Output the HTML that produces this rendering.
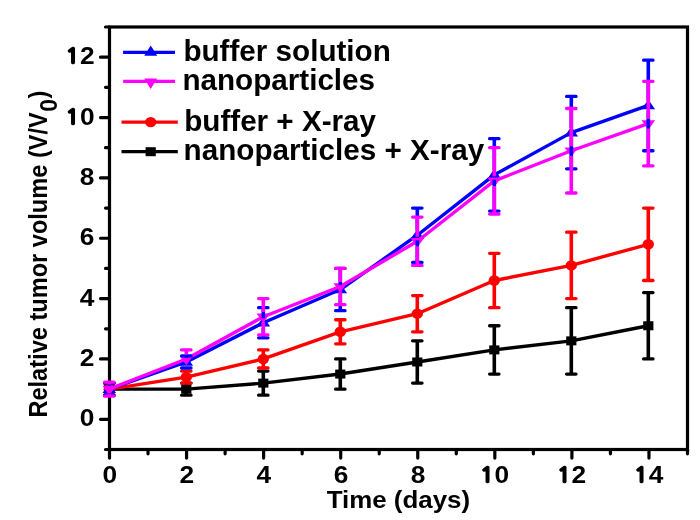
<!DOCTYPE html>
<html lang="en"><head><meta charset="utf-8"><title>Relative tumor volume</title>
<style>html,body{margin:0;padding:0;background:#fff}body{width:700px;height:520px;overflow:hidden}</style></head>
<body>
<svg width="700" height="520" viewBox="0 0 700 520" style="display:block">
<rect width="700" height="520" fill="#ffffff"/>
<rect x="109.50" y="26.99" width="578.00" height="422.51" fill="none" stroke="#000" stroke-width="3.2"/>
<path d="M109.50 449.50v8.6M148.03 449.50v4.3M186.57 449.50v8.6M225.10 449.50v4.3M263.63 449.50v8.6M302.17 449.50v4.3M340.70 449.50v8.6M379.23 449.50v4.3M417.76 449.50v8.6M456.30 449.50v4.3M494.83 449.50v8.6M533.36 449.50v4.3M571.90 449.50v8.6M610.43 449.50v4.3M648.96 449.50v8.6M687.50 449.50v4.3M109.50 449.50h-4.0M109.50 419.32h-9.0M109.50 389.14h-4.0M109.50 358.96h-9.0M109.50 328.78h-4.0M109.50 298.61h-9.0M109.50 268.43h-4.0M109.50 238.25h-9.0M109.50 208.07h-4.0M109.50 177.89h-9.0M109.50 147.71h-4.0M109.50 117.53h-9.0M109.50 87.35h-4.0M109.50 57.17h-9.0M109.50 26.99h-4.0" stroke="#000" stroke-width="3.2" stroke-linecap="round" fill="none"/>
<polyline points="109.30,389.14 186.30,389.14 263.30,383.11 340.30,374.05 417.30,361.98 494.30,349.91 571.30,340.86 648.30,325.77" fill="none" stroke="#000000" stroke-width="3.4" stroke-linejoin="round"/>
<rect x="104.20" y="384.64" width="10.20" height="9.00" fill="#000000"/>
<rect x="181.20" y="384.64" width="10.20" height="9.00" fill="#000000"/>
<rect x="258.20" y="378.61" width="10.20" height="9.00" fill="#000000"/>
<rect x="335.20" y="369.55" width="10.20" height="9.00" fill="#000000"/>
<rect x="412.20" y="357.48" width="10.20" height="9.00" fill="#000000"/>
<rect x="489.20" y="345.41" width="10.20" height="9.00" fill="#000000"/>
<rect x="566.20" y="336.36" width="10.20" height="9.00" fill="#000000"/>
<rect x="643.20" y="321.27" width="10.20" height="9.00" fill="#000000"/>
<path d="M109.30 383.11V395.18" stroke="#000000" stroke-width="3.6" fill="none"/>
<path d="M104.60 383.11H114.00M104.60 395.18H114.00" stroke="#000000" stroke-width="3.3" stroke-linecap="round" fill="none"/>
<path d="M186.30 383.11V395.18" stroke="#000000" stroke-width="3.6" fill="none"/>
<path d="M181.60 383.11H191.00M181.60 395.18H191.00" stroke="#000000" stroke-width="3.3" stroke-linecap="round" fill="none"/>
<path d="M263.30 371.03V395.18" stroke="#000000" stroke-width="3.6" fill="none"/>
<path d="M258.60 371.03H268.00M258.60 395.18H268.00" stroke="#000000" stroke-width="3.3" stroke-linecap="round" fill="none"/>
<path d="M340.30 358.96V389.14" stroke="#000000" stroke-width="3.6" fill="none"/>
<path d="M335.60 358.96H345.00M335.60 389.14H345.00" stroke="#000000" stroke-width="3.3" stroke-linecap="round" fill="none"/>
<path d="M417.30 340.86V383.11" stroke="#000000" stroke-width="3.6" fill="none"/>
<path d="M412.60 340.86H422.00M412.60 383.11H422.00" stroke="#000000" stroke-width="3.3" stroke-linecap="round" fill="none"/>
<path d="M494.30 325.77V374.05" stroke="#000000" stroke-width="3.6" fill="none"/>
<path d="M489.60 325.77H499.00M489.60 374.05H499.00" stroke="#000000" stroke-width="3.3" stroke-linecap="round" fill="none"/>
<path d="M571.30 307.66V374.05" stroke="#000000" stroke-width="3.6" fill="none"/>
<path d="M566.60 307.66H576.00M566.60 374.05H576.00" stroke="#000000" stroke-width="3.3" stroke-linecap="round" fill="none"/>
<path d="M648.30 292.57V358.96" stroke="#000000" stroke-width="3.6" fill="none"/>
<path d="M643.60 292.57H653.00M643.60 358.96H653.00" stroke="#000000" stroke-width="3.3" stroke-linecap="round" fill="none"/>
<polyline points="109.30,389.14 186.30,377.07 263.30,358.96 340.30,331.80 417.30,313.69 494.30,280.50 571.30,265.41 648.30,244.28" fill="none" stroke="#ff0000" stroke-width="3.4" stroke-linejoin="round"/>
<ellipse cx="109.30" cy="389.14" rx="5.7" ry="5.2" fill="#ff0000"/>
<ellipse cx="186.30" cy="377.07" rx="5.7" ry="5.2" fill="#ff0000"/>
<ellipse cx="263.30" cy="358.96" rx="5.7" ry="5.2" fill="#ff0000"/>
<ellipse cx="340.30" cy="331.80" rx="5.7" ry="5.2" fill="#ff0000"/>
<ellipse cx="417.30" cy="313.69" rx="5.7" ry="5.2" fill="#ff0000"/>
<ellipse cx="494.30" cy="280.50" rx="5.7" ry="5.2" fill="#ff0000"/>
<ellipse cx="571.30" cy="265.41" rx="5.7" ry="5.2" fill="#ff0000"/>
<ellipse cx="648.30" cy="244.28" rx="5.7" ry="5.2" fill="#ff0000"/>
<path d="M109.30 383.11V395.18" stroke="#ff0000" stroke-width="3.6" fill="none"/>
<path d="M104.60 383.11H114.00M104.60 395.18H114.00" stroke="#ff0000" stroke-width="3.3" stroke-linecap="round" fill="none"/>
<path d="M186.30 371.03V383.11" stroke="#ff0000" stroke-width="3.6" fill="none"/>
<path d="M181.60 371.03H191.00M181.60 383.11H191.00" stroke="#ff0000" stroke-width="3.3" stroke-linecap="round" fill="none"/>
<path d="M263.30 349.91V368.02" stroke="#ff0000" stroke-width="3.6" fill="none"/>
<path d="M258.60 349.91H268.00M258.60 368.02H268.00" stroke="#ff0000" stroke-width="3.3" stroke-linecap="round" fill="none"/>
<path d="M340.30 319.73V343.87" stroke="#ff0000" stroke-width="3.6" fill="none"/>
<path d="M335.60 319.73H345.00M335.60 343.87H345.00" stroke="#ff0000" stroke-width="3.3" stroke-linecap="round" fill="none"/>
<path d="M417.30 295.59V331.80" stroke="#ff0000" stroke-width="3.6" fill="none"/>
<path d="M412.60 295.59H422.00M412.60 331.80H422.00" stroke="#ff0000" stroke-width="3.3" stroke-linecap="round" fill="none"/>
<path d="M494.30 253.34V307.66" stroke="#ff0000" stroke-width="3.6" fill="none"/>
<path d="M489.60 253.34H499.00M489.60 307.66H499.00" stroke="#ff0000" stroke-width="3.3" stroke-linecap="round" fill="none"/>
<path d="M571.30 232.21V298.61" stroke="#ff0000" stroke-width="3.6" fill="none"/>
<path d="M566.60 232.21H576.00M566.60 298.61H576.00" stroke="#ff0000" stroke-width="3.3" stroke-linecap="round" fill="none"/>
<path d="M648.30 208.07V280.50" stroke="#ff0000" stroke-width="3.6" fill="none"/>
<path d="M643.60 208.07H653.00M643.60 280.50H653.00" stroke="#ff0000" stroke-width="3.3" stroke-linecap="round" fill="none"/>
<polyline points="109.30,389.14 186.30,361.98 263.30,322.75 340.30,289.55 417.30,235.23 494.30,174.87 571.30,132.62 648.30,105.46" fill="none" stroke="#0000ff" stroke-width="3.4" stroke-linejoin="round"/>
<polygon points="102.50,392.94 116.10,392.94 109.30,383.14" fill="#0000ff"/>
<polygon points="179.50,365.78 193.10,365.78 186.30,355.98" fill="#0000ff"/>
<polygon points="256.50,326.55 270.10,326.55 263.30,316.75" fill="#0000ff"/>
<polygon points="333.50,293.35 347.10,293.35 340.30,283.55" fill="#0000ff"/>
<polygon points="410.50,239.03 424.10,239.03 417.30,229.23" fill="#0000ff"/>
<polygon points="487.50,178.67 501.10,178.67 494.30,168.87" fill="#0000ff"/>
<polygon points="564.50,136.42 578.10,136.42 571.30,126.62" fill="#0000ff"/>
<polygon points="641.50,109.26 655.10,109.26 648.30,99.46" fill="#0000ff"/>
<polyline points="109.30,389.14 186.30,358.96 263.30,316.71 340.30,286.53 417.30,241.26 494.30,180.91 571.30,150.73 648.30,123.57" fill="none" stroke="#ff00ff" stroke-width="3.4" stroke-linejoin="round"/>
<polygon points="102.50,385.84 116.10,385.84 109.30,395.44" fill="#ff00ff"/>
<polygon points="179.50,355.66 193.10,355.66 186.30,365.26" fill="#ff00ff"/>
<polygon points="256.50,313.41 270.10,313.41 263.30,323.01" fill="#ff00ff"/>
<polygon points="333.50,283.23 347.10,283.23 340.30,292.83" fill="#ff00ff"/>
<polygon points="410.50,237.96 424.10,237.96 417.30,247.56" fill="#ff00ff"/>
<polygon points="487.50,177.61 501.10,177.61 494.30,187.21" fill="#ff00ff"/>
<polygon points="564.50,147.43 578.10,147.43 571.30,157.03" fill="#ff00ff"/>
<polygon points="641.50,120.27 655.10,120.27 648.30,129.87" fill="#ff00ff"/>
<path d="M109.30 383.11V384.54M109.30 394.14V395.18" stroke="#0000ff" stroke-width="3.6" fill="none"/>
<path d="M104.60 383.11H114.00M104.60 395.18H114.00" stroke="#0000ff" stroke-width="3.3" stroke-linecap="round" fill="none"/>
<path d="M186.30 355.95V357.38M186.30 366.98V368.02" stroke="#0000ff" stroke-width="3.6" fill="none"/>
<path d="M181.60 355.95H191.00M181.60 368.02H191.00" stroke="#0000ff" stroke-width="3.3" stroke-linecap="round" fill="none"/>
<path d="M263.30 307.66V318.15M263.30 327.75V337.84" stroke="#0000ff" stroke-width="3.6" fill="none"/>
<path d="M258.60 307.66H268.00M258.60 337.84H268.00" stroke="#0000ff" stroke-width="3.3" stroke-linecap="round" fill="none"/>
<path d="M340.30 268.43V284.95M340.30 294.55V310.68" stroke="#0000ff" stroke-width="3.6" fill="none"/>
<path d="M335.60 268.43H345.00M335.60 310.68H345.00" stroke="#0000ff" stroke-width="3.3" stroke-linecap="round" fill="none"/>
<path d="M417.30 208.07V230.63M417.30 240.23V262.39" stroke="#0000ff" stroke-width="3.6" fill="none"/>
<path d="M412.60 208.07H422.00M412.60 262.39H422.00" stroke="#0000ff" stroke-width="3.3" stroke-linecap="round" fill="none"/>
<path d="M494.30 138.66V170.27M494.30 179.87V211.09" stroke="#0000ff" stroke-width="3.6" fill="none"/>
<path d="M489.60 138.66H499.00M489.60 211.09H499.00" stroke="#0000ff" stroke-width="3.3" stroke-linecap="round" fill="none"/>
<path d="M571.30 96.41V128.02M571.30 137.62V168.84" stroke="#0000ff" stroke-width="3.6" fill="none"/>
<path d="M566.60 96.41H576.00M566.60 168.84H576.00" stroke="#0000ff" stroke-width="3.3" stroke-linecap="round" fill="none"/>
<path d="M648.30 60.19V100.86M648.30 110.46V150.73" stroke="#0000ff" stroke-width="3.6" fill="none"/>
<path d="M643.60 60.19H653.00M643.60 150.73H653.00" stroke="#0000ff" stroke-width="3.3" stroke-linecap="round" fill="none"/>
<path d="M109.30 382.20V384.54M109.30 394.14V396.08" stroke="#ff00ff" stroke-width="3.6" fill="none"/>
<path d="M104.60 382.20H114.00M104.60 396.08H114.00" stroke="#ff00ff" stroke-width="3.3" stroke-linecap="round" fill="none"/>
<path d="M186.30 349.91V354.36" stroke="#ff00ff" stroke-width="3.6" fill="none"/>
<path d="M181.60 349.91H191.00" stroke="#ff00ff" stroke-width="3.3" stroke-linecap="round" fill="none"/>
<path d="M263.30 298.61V312.11M263.30 321.71V334.82" stroke="#ff00ff" stroke-width="3.6" fill="none"/>
<path d="M258.60 298.61H268.00M258.60 334.82H268.00" stroke="#ff00ff" stroke-width="3.3" stroke-linecap="round" fill="none"/>
<path d="M340.30 268.43V281.93M340.30 291.53V304.64" stroke="#ff00ff" stroke-width="3.6" fill="none"/>
<path d="M335.60 268.43H345.00M335.60 304.64H345.00" stroke="#ff00ff" stroke-width="3.3" stroke-linecap="round" fill="none"/>
<path d="M417.30 217.12V236.66M417.30 246.26V265.41" stroke="#ff00ff" stroke-width="3.6" fill="none"/>
<path d="M412.60 217.12H422.00M412.60 265.41H422.00" stroke="#ff00ff" stroke-width="3.3" stroke-linecap="round" fill="none"/>
<path d="M494.30 147.71V176.31M494.30 185.91V214.10" stroke="#ff00ff" stroke-width="3.6" fill="none"/>
<path d="M489.60 147.71H499.00M489.60 214.10H499.00" stroke="#ff00ff" stroke-width="3.3" stroke-linecap="round" fill="none"/>
<path d="M571.30 108.48V146.13M571.30 155.73V192.98" stroke="#ff00ff" stroke-width="3.6" fill="none"/>
<path d="M566.60 108.48H576.00M566.60 192.98H576.00" stroke="#ff00ff" stroke-width="3.3" stroke-linecap="round" fill="none"/>
<path d="M648.30 81.32V118.97M648.30 128.57V165.82" stroke="#ff00ff" stroke-width="3.6" fill="none"/>
<path d="M643.60 81.32H653.00M643.60 165.82H653.00" stroke="#ff00ff" stroke-width="3.3" stroke-linecap="round" fill="none"/>
<text x="0" y="0" transform="translate(109.80 482.8) scale(1.12 1)" text-anchor="middle" font-size="23.5" font-family="'Liberation Sans', sans-serif" font-weight="bold">0</text>
<text x="0" y="0" transform="translate(186.87 482.8) scale(1.12 1)" text-anchor="middle" font-size="23.5" font-family="'Liberation Sans', sans-serif" font-weight="bold">2</text>
<text x="0" y="0" transform="translate(263.93 482.8) scale(1.12 1)" text-anchor="middle" font-size="23.5" font-family="'Liberation Sans', sans-serif" font-weight="bold">4</text>
<text x="0" y="0" transform="translate(341.00 482.8) scale(1.12 1)" text-anchor="middle" font-size="23.5" font-family="'Liberation Sans', sans-serif" font-weight="bold">6</text>
<text x="0" y="0" transform="translate(418.06 482.8) scale(1.12 1)" text-anchor="middle" font-size="23.5" font-family="'Liberation Sans', sans-serif" font-weight="bold">8</text>
<text x="0" y="0" transform="translate(494.33 482.8) scale(1.12 1)" text-anchor="middle" font-size="23.5" font-family="'Liberation Sans', sans-serif" font-weight="bold"><tspan font-family="NanumGothic, 'Liberation Sans', sans-serif" font-weight="normal" font-size="18.8" stroke="#000" stroke-width="2.3" stroke-linejoin="miter" dx="0.4" dy="-0.75">1</tspan><tspan dx="1.25" dy="0.75">0</tspan></text>
<text x="0" y="0" transform="translate(571.40 482.8) scale(1.12 1)" text-anchor="middle" font-size="23.5" font-family="'Liberation Sans', sans-serif" font-weight="bold"><tspan font-family="NanumGothic, 'Liberation Sans', sans-serif" font-weight="normal" font-size="18.8" stroke="#000" stroke-width="2.3" stroke-linejoin="miter" dx="0.4" dy="-0.75">1</tspan><tspan dx="1.25" dy="0.75">2</tspan></text>
<text x="0" y="0" transform="translate(648.46 482.8) scale(1.12 1)" text-anchor="middle" font-size="23.5" font-family="'Liberation Sans', sans-serif" font-weight="bold"><tspan font-family="NanumGothic, 'Liberation Sans', sans-serif" font-weight="normal" font-size="18.8" stroke="#000" stroke-width="2.3" stroke-linejoin="miter" dx="0.4" dy="-0.75">1</tspan><tspan dx="1.25" dy="0.75">4</tspan></text>
<text x="0" y="0" transform="translate(94.3 426.32) scale(1.12 1)" text-anchor="end" font-size="23.5" font-family="'Liberation Sans', sans-serif" font-weight="bold">0</text>
<text x="0" y="0" transform="translate(94.3 365.96) scale(1.12 1)" text-anchor="end" font-size="23.5" font-family="'Liberation Sans', sans-serif" font-weight="bold">2</text>
<text x="0" y="0" transform="translate(94.3 305.61) scale(1.12 1)" text-anchor="end" font-size="23.5" font-family="'Liberation Sans', sans-serif" font-weight="bold">4</text>
<text x="0" y="0" transform="translate(94.3 245.25) scale(1.12 1)" text-anchor="end" font-size="23.5" font-family="'Liberation Sans', sans-serif" font-weight="bold">6</text>
<text x="0" y="0" transform="translate(94.3 184.89) scale(1.12 1)" text-anchor="end" font-size="23.5" font-family="'Liberation Sans', sans-serif" font-weight="bold">8</text>
<text x="0" y="0" transform="translate(94.3 124.53) scale(1.12 1)" text-anchor="end" font-size="23.5" font-family="'Liberation Sans', sans-serif" font-weight="bold"><tspan font-family="NanumGothic, 'Liberation Sans', sans-serif" font-weight="normal" font-size="18.8" stroke="#000" stroke-width="2.3" stroke-linejoin="miter" dx="0.4" dy="-0.75">1</tspan><tspan dx="1.25" dy="0.75">0</tspan></text>
<text x="0" y="0" transform="translate(94.3 64.17) scale(1.12 1)" text-anchor="end" font-size="23.5" font-family="'Liberation Sans', sans-serif" font-weight="bold"><tspan font-family="NanumGothic, 'Liberation Sans', sans-serif" font-weight="normal" font-size="18.8" stroke="#000" stroke-width="2.3" stroke-linejoin="miter" dx="0.4" dy="-0.75">1</tspan><tspan dx="1.25" dy="0.75">2</tspan></text>
<text transform="translate(398.4 508.2) scale(1.116 1)" text-anchor="middle" font-size="23.2" font-family="'Liberation Sans', sans-serif" font-weight="bold">Time (days)</text>
<text transform="translate(47.3 417.6) rotate(-90) scale(1 1.08)" font-size="23.6" font-family="'Liberation Sans', sans-serif" font-weight="bold">Relative tumor volume (V/V<tspan font-size="23" dy="8.8" dx="0.6">0</tspan><tspan dy="-8.8" dx="0.4">)</tspan></text>
<path d="M123.1 52.3H175.0" stroke="#0000ff" stroke-width="3.3" fill="none"/>
<polygon points="144.20,55.70 157.20,55.70 150.70,45.60" fill="#0000ff"/>
<text transform="translate(183.4 61.3) scale(1.022 1)" font-size="29" font-family="'Liberation Sans', sans-serif" font-weight="bold">buffer solution</text>
<path d="M123.1 81.4H175.0" stroke="#ff00ff" stroke-width="3.3" fill="none"/>
<polygon points="144.20,78.60 157.20,78.60 150.70,89.00" fill="#ff00ff"/>
<text transform="translate(182.4 90.4) scale(1.022 1)" font-size="29" font-family="'Liberation Sans', sans-serif" font-weight="bold">nanoparticles</text>
<path d="M121.5 122.1H177.8" stroke="#ff0000" stroke-width="3.3" fill="none"/>
<ellipse cx="150.70" cy="122.10" rx="5.7" ry="5.2" fill="#ff0000"/>
<text transform="translate(184.2 131.4) scale(1.022 1)" font-size="29" font-family="'Liberation Sans', sans-serif" font-weight="bold">buffer + X-ray</text>
<path d="M121.5 151.7H177.8" stroke="#000000" stroke-width="3.3" fill="none"/>
<rect x="145.60" y="147.20" width="10.20" height="9.00" fill="#000000"/>
<text transform="translate(183.6 159.7) scale(1.022 1)" font-size="29" font-family="'Liberation Sans', sans-serif" font-weight="bold">nanoparticles + X-ray</text>
</svg>
</body></html>
